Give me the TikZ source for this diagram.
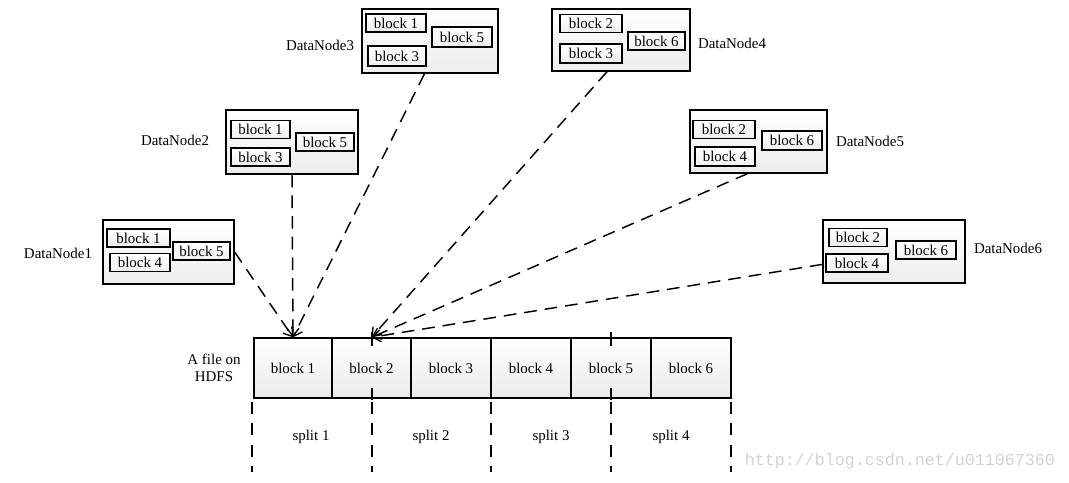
\documentclass[tikz,border=0pt]{standalone}
\usepackage{fontspec}
\setmainfont{Liberation Serif}
\newfontfamily\wmfont{Liberation Mono}
\usetikzlibrary{arrows.meta,calc,shadings}
\begin{document}
\begin{tikzpicture}[x=0.75pt,y=-0.75pt,
  every node/.style={font=\fontsize{11.2}{13}\selectfont},
  outerbox/.style={draw, line width=1pt, top color=white, bottom color=gray!14, inner sep=0pt},
  blk/.style={draw, line width=1.2pt, top color=white, bottom color=gray!12, inner sep=0pt, minimum height=13.5pt},
  cell/.style={draw, line width=1pt, top color=white, bottom color=gray!16, inner sep=0pt, minimum height=45pt, minimum width=#1*0.75pt},
  lbl/.style={inner sep=0pt},
  link/.style={line width=1.1pt, dash pattern=on 9.5pt off 6pt, -{Straight Barb[length=6pt,width=9pt,line width=1pt]}},
  tick/.style={line width=1pt, dash pattern=on 9pt off 7pt},
]
\useasboundingbox (0,0) rectangle (1069,482);

% DataNode boxes
\node[outerbox, minimum width=98.25pt, minimum height=48pt] (dn1) at (168.5,252) {};
\node[blk, minimum width=47.25pt] at (138.5,238) {block 1};
\node[blk, minimum width=45pt] at (140,262.5) {block 4};
\node[blk, minimum width=42.75pt] at (201.5,251) {block 5};
\node[lbl] (l1) at (58,253) {DataNode1};

\node[outerbox, minimum width=99pt, minimum height=48pt] (dn2) at (292,142) {};
\node[blk, minimum width=44.25pt] at (260.5,129.5) {block 1};
\node[blk, minimum width=44.25pt] at (260.5,157) {block 3};
\node[blk, minimum width=43.5pt] at (325,142) {block 5};
\node[lbl] (l2) at (175,140) {DataNode2};

\node[outerbox, minimum width=102pt, minimum height=48pt] (dn3) at (430,41) {};
\node[blk, minimum width=45pt] at (396,23) {block 1};
\node[blk, minimum width=43.5pt, minimum height=15pt] at (397,56) {block 3};
\node[blk, minimum width=45pt, minimum height=15pt] at (462,37) {block 5};
\node[lbl] (l3) at (320,45) {DataNode3};

\node[outerbox, minimum width=103.5pt, minimum height=46.5pt] (dn4) at (621,40) {};
\node[blk, minimum width=46.5pt] at (591,23.5) {block 2};
\node[blk, minimum width=46.5pt, minimum height=14.25pt] at (591,53.5) {block 3};
\node[blk, minimum width=42.75pt] at (656.5,41) {block 6};
\node[lbl] (l4) at (732,43) {DataNode4};

\node[outerbox, minimum width=102.75pt, minimum height=47.25pt] (dn5) at (758.5,141.5) {};
\node[blk, minimum width=46.5pt] at (724,129.5) {block 2};
\node[blk, minimum width=45pt, minimum height=14.25pt] at (725,156.5) {block 4};
\node[blk, minimum width=45pt, minimum height=14.25pt] at (792,140.5) {block 6};
\node[lbl] (l5) at (870,141) {DataNode5};

\node[outerbox, minimum width=106.5pt, minimum height=47.25pt] (dn6) at (894,251.5) {};
\node[blk, minimum width=43.5pt] at (858,237.5) {block 2};
\node[blk, minimum width=46.5pt] at (857,263) {block 4};
\node[blk, minimum width=45pt] at (926,250) {block 6};
\node[lbl] (l6) at (1008,248) {DataNode6};

% file row
\node[cell=78] (f1) at (293,368) {block 1};
\node[cell=79] (f2) at (371.5,368) {block 2};
\node[cell=80] (f3) at (451,368) {block 3};
\node[cell=80] (f4) at (531,368) {block 4};
\node[cell=80] (f5) at (611,368) {block 5};
\node[cell=80] (f6) at (691,368) {block 6};
\node[lbl, align=center] (file) at (214,368) {A file on\\HDFS};

% split ticks
\foreach \x/\n in {252/a,372/b,491/c,611/d,731/e}{
  \coordinate (t\n) at (\x,402);
  \coordinate (u\n) at (\x,472);
  \draw[tick] (t\n) -- (u\n);
}
\foreach \x/\n in {372/b,611/d}{
  \coordinate (v\n) at (\x,332);
  \coordinate (w\n) at (\x,400);
  \draw[line width=1pt, dash pattern=on 10.5pt off 31.5pt on 9pt off 9pt] (v\n) -- (w\n);
}
\node[lbl] at (311,437) {split 1};
\node[lbl] at (431,437) {split 2};
\node[lbl] at (551,437) {split 3};
\node[lbl] at (671,437) {split 4};

% connectors
\draw[link] (dn1.east) -- (f1.north);
\draw[link] (dn2.south) -- (f1.north);
\draw[link] ($(dn3.south west)!0.46!(dn3.south east)$) -- (f1.north);
\draw[link] ($(dn4.south west)!0.4!(dn4.south east)$) -- (f2.north);
\draw[link] ($(dn5.south west)!0.42!(dn5.south east)$) -- (f2.north);
\draw[link] ($(dn6.south west)!0.3!(dn6.north west)$) -- (f2.north);

% watermark
\node[lbl, text=gray!35, font=\wmfont\fontsize{12.5}{14}\selectfont] (wm) at (900,461) {http://blog.csdn.net/u011067360};
\end{tikzpicture}
\end{document}
